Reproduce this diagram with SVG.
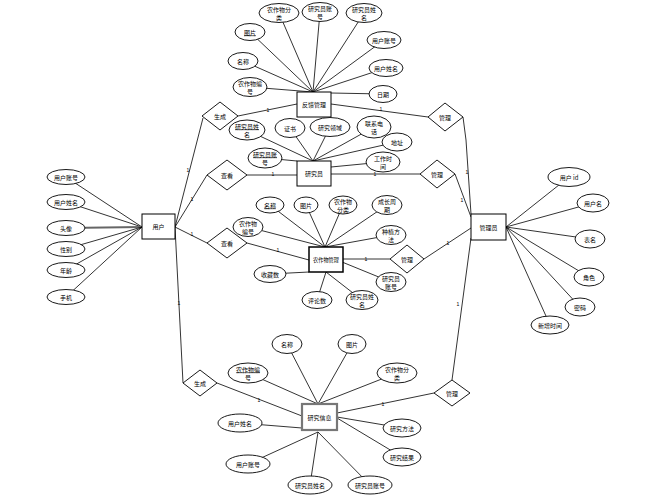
<svg xmlns="http://www.w3.org/2000/svg" width="650" height="499" viewBox="0 0 650 499">
<style>
.l{stroke:#000;stroke-width:0.8;fill:none}
.e{fill:#fff;stroke:#000;stroke-width:0.9}
.r{fill:#fff;stroke:#000;stroke-width:1}
.d{fill:#fff;stroke:#000;stroke-width:0.9}
text{font-family:"Noto Sans CJK SC","Liberation Sans",sans-serif;font-size:6px;fill:#000;text-anchor:middle;dominant-baseline:central}
.c{font-size:5px;font-family:"Liberation Sans",sans-serif}
.u{text-decoration:underline}
</style>
<rect width="650" height="499" fill="#fff"/>
<g id="connectors">
<line class="l" x1="66" y1="177" x2="142" y2="227"/>
<line class="l" x1="66" y1="202" x2="142" y2="227"/>
<line x1="66" y1="228" x2="142" y2="227" stroke="#666" stroke-width="1.8"/>
<line class="l" x1="66" y1="249" x2="142" y2="227"/>
<line class="l" x1="66" y1="270" x2="142" y2="227"/>
<line class="l" x1="66" y1="297" x2="142" y2="227"/>
<line class="l" x1="175" y1="227" x2="203" y2="118"/>
<line class="l" x1="175" y1="227" x2="207" y2="175"/>
<line class="l" x1="175" y1="227" x2="207" y2="243"/>
<line class="l" x1="175" y1="227" x2="183" y2="383"/>
<line class="l" x1="238" y1="116" x2="297" y2="104"/>
<line class="l" x1="247" y1="175" x2="297" y2="175"/>
<line class="l" x1="247" y1="243" x2="309" y2="260"/>
<line class="l" x1="217" y1="383" x2="302" y2="416"/>
<line class="l" x1="331" y1="104" x2="428" y2="117"/>
<line class="l" x1="331" y1="174" x2="420" y2="174"/>
<line class="l" x1="343" y1="259" x2="390" y2="259"/>
<line class="l" x1="337" y1="413" x2="434" y2="393"/>
<polyline class="l" points="463,117 466,140 471,214"/>
<line class="l" x1="455" y1="174" x2="471" y2="217"/>
<line class="l" x1="424" y1="259" x2="471" y2="228"/>
<line class="l" x1="452" y1="380" x2="471" y2="238"/>
<line class="l" x1="506" y1="227" x2="569" y2="177"/>
<line class="l" x1="506" y1="227" x2="593" y2="203"/>
<line class="l" x1="506" y1="227" x2="590" y2="239"/>
<line class="l" x1="506" y1="227" x2="589" y2="277"/>
<line class="l" x1="506" y1="227" x2="580" y2="307"/>
<line class="l" x1="506" y1="227" x2="550" y2="325"/>
<line class="l" x1="279" y1="13" x2="313" y2="92"/>
<line class="l" x1="320" y1="12" x2="313" y2="92"/>
<line class="l" x1="364" y1="13" x2="313" y2="92"/>
<line class="l" x1="384" y1="40" x2="313" y2="92"/>
<line class="l" x1="386" y1="68" x2="313" y2="92"/>
<line class="l" x1="383" y1="94" x2="331" y2="93"/>
<line class="l" x1="250" y1="32" x2="313" y2="92"/>
<line class="l" x1="243" y1="61" x2="313" y2="92"/>
<line class="l" x1="250" y1="87" x2="313" y2="92"/>
<line class="l" x1="247" y1="130" x2="313" y2="161"/>
<line class="l" x1="290" y1="128" x2="313" y2="161"/>
<line class="l" x1="330" y1="127" x2="313" y2="161"/>
<line class="l" x1="374" y1="127" x2="313" y2="161"/>
<line class="l" x1="397" y1="142" x2="313" y2="161"/>
<line class="l" x1="265" y1="158" x2="297" y2="161"/>
<line class="l" x1="383" y1="162" x2="331" y2="167"/>
<line class="l" x1="270" y1="205" x2="325" y2="247"/>
<line class="l" x1="306" y1="205" x2="325" y2="247"/>
<line class="l" x1="343" y1="205" x2="325" y2="247"/>
<line class="l" x1="387" y1="205" x2="325" y2="247"/>
<line class="l" x1="391" y1="235" x2="325" y2="247"/>
<line class="l" x1="248" y1="227" x2="325" y2="247"/>
<line class="l" x1="391" y1="282" x2="342" y2="262"/>
<line class="l" x1="362" y1="300" x2="326" y2="272"/>
<line class="l" x1="317" y1="300" x2="326" y2="272"/>
<line class="l" x1="270" y1="274" x2="309" y2="272"/>
<line class="l" x1="287" y1="344" x2="318" y2="404"/>
<line class="l" x1="352" y1="344" x2="318" y2="404"/>
<line class="l" x1="248" y1="373" x2="318" y2="404"/>
<line class="l" x1="397" y1="373" x2="318" y2="404"/>
<line class="l" x1="240" y1="423" x2="302" y2="428"/>
<line class="l" x1="402" y1="428" x2="337" y2="417"/>
<line class="l" x1="402" y1="457" x2="337" y2="418"/>
<line class="l" x1="370" y1="485" x2="318" y2="432"/>
<line class="l" x1="310" y1="485" x2="318" y2="432"/>
<line class="l" x1="248" y1="464" x2="318" y2="432"/>
<text class="c" x="188" y="170">1</text>
<text class="c" x="192" y="199">1</text>
<text class="c" x="192" y="234">1</text>
<text class="c" x="179" y="303">1</text>
<text class="c" x="268" y="110">1</text>
<text class="c" x="273" y="174">1</text>
<text class="c" x="278" y="250">1</text>
<text class="c" x="259" y="400">1</text>
<text class="c" x="381" y="109">1</text>
<text class="c" x="375" y="174">1</text>
<text class="c" x="366" y="259">1</text>
<text class="c" x="383" y="404">1</text>
<text class="c" x="467" y="172">1</text>
<text class="c" x="462" y="200">1</text>
<text class="c" x="448" y="243">1</text>
<text class="c" x="458" y="304">1</text>
</g>
<g id="user"><rect class="r" x="142" y="214" width="33" height="25"/><text x="158.5" y="226.5">用户</text></g>
<g id="user-attrs">
<ellipse class="e" cx="66" cy="177" rx="19" ry="7.5"/><text x="66" y="177">用户账号</text>
<ellipse class="e" cx="66" cy="202" rx="19" ry="7.5"/><text x="66" y="202">用户姓名</text>
<ellipse class="e" cx="66" cy="228" rx="19" ry="7.5"/><text x="66" y="228">头像</text>
<ellipse class="e" cx="66" cy="249" rx="19" ry="7.5"/><text x="66" y="249">性别</text>
<ellipse class="e" cx="66" cy="270" rx="19" ry="7.5"/><text x="66" y="270">年龄</text>
<ellipse class="e" cx="66" cy="297" rx="19" ry="7.5"/><text x="66" y="297">手机</text>
</g>
<g id="feedback"><rect class="r" x="297" y="92" width="34" height="25"/><text x="314" y="104.5">反馈管理</text></g>
<g id="feedback-attrs">
<ellipse class="e" cx="279" cy="13" rx="20" ry="9.5"/><text x="279" y="9">农作物分</text><text x="279" y="17.5">类</text>
<ellipse class="e" cx="320" cy="12" rx="18" ry="9.5"/><text x="320" y="8">研究员账</text><text x="320" y="16.5">号</text>
<ellipse class="e" cx="364" cy="13" rx="18" ry="9.5"/><text x="364" y="9">研究员姓</text><text x="364" y="17.5">名</text>
<ellipse class="e" cx="384" cy="40" rx="17" ry="8.5"/><text x="384" y="40">用户账号</text>
<ellipse class="e" cx="386" cy="68" rx="17" ry="8.5"/><text x="386" y="68">用户姓名</text>
<ellipse class="e" cx="383" cy="94" rx="14" ry="8.5"/><text x="383" y="94">日期</text>
<ellipse class="e" cx="250" cy="32" rx="15" ry="8.5"/><text class="u" x="250" y="32">图片</text>
<ellipse class="e" cx="243" cy="61" rx="15" ry="8.5"/><text x="243" y="61">名称</text>
<ellipse class="e" cx="250" cy="87" rx="17" ry="9.5"/><text x="250" y="83">农作物编</text><text x="250" y="91.5">号</text>
</g>
<g id="researcher"><rect class="r" x="297" y="161" width="34" height="25"/><text x="314" y="173.5">研究员</text></g>
<g id="researcher-attrs">
<ellipse class="e" cx="247" cy="130" rx="18" ry="10"/><text class="u" x="247" y="126">研究员姓</text><text x="247" y="134.5">名</text>
<ellipse class="e" cx="290" cy="128" rx="15" ry="9.5"/><text x="290" y="128">证书</text>
<ellipse class="e" cx="330" cy="127" rx="20" ry="9.5"/><text x="330" y="127">研究领域</text>
<ellipse class="e" cx="374" cy="127" rx="17" ry="11"/><text x="374" y="123">联系电</text><text x="374" y="131.5">话</text>
<ellipse class="e" cx="397" cy="142" rx="15" ry="9"/><text x="397" y="142">地址</text>
<ellipse class="e" cx="265" cy="158" rx="17" ry="10"/><text class="u" x="265" y="154">研究员账</text><text x="265" y="162.5">号</text>
<ellipse class="e" cx="383" cy="162" rx="17" ry="10"/><text x="383" y="158">工作时</text><text x="383" y="166.5">间</text>
</g>
<g id="crop"><rect x="309" y="247" width="34" height="25" fill="#fff" stroke="#000" stroke-width="1.5"/><text x="326" y="259.5" style="font-size:5.2px">农作物管理</text></g>
<g id="crop-attrs">
<ellipse class="e" cx="270" cy="205" rx="14" ry="8"/><text class="u" x="270" y="205">名称</text>
<ellipse class="e" cx="306" cy="205" rx="12" ry="8"/><text x="306" y="205">图片</text>
<ellipse class="e" cx="343" cy="205" rx="14" ry="9"/><text x="343" y="201">农作物</text><text x="343" y="209.5">分类</text>
<ellipse class="e" cx="387" cy="205" rx="15" ry="9.5"/><text x="387" y="201">成长周</text><text x="387" y="209.5">期</text>
<ellipse class="e" cx="391" cy="235" rx="15" ry="9.5"/><text x="391" y="231">种植方</text><text x="391" y="239.5">法</text>
<ellipse class="e" cx="248" cy="227" rx="15" ry="9.5"/><text x="248" y="223">农作物</text><text x="248" y="231.5">编号</text>
<ellipse class="e" cx="391" cy="282" rx="15" ry="9.5"/><text x="391" y="278">研究员</text><text x="391" y="286.5">账号</text>
<ellipse class="e" cx="362" cy="300" rx="16" ry="9.5"/><text x="362" y="296">研究员姓</text><text x="362" y="304.5">名</text>
<ellipse class="e" cx="317" cy="300" rx="15" ry="8.5"/><text x="317" y="300">评论数</text>
<ellipse class="e" cx="270" cy="274" rx="16" ry="8.5"/><text x="270" y="274">收藏数</text>
</g>
<g id="admin"><rect class="r" x="471" y="214" width="35" height="26"/><text x="488.5" y="227">管理员</text></g>
<g id="admin-attrs">
<ellipse class="e" cx="569" cy="177" rx="21" ry="9.5"/><text x="569" y="177">用户 id</text>
<ellipse class="e" cx="593" cy="203" rx="16" ry="9"/><text x="593" y="203">用户名</text>
<ellipse class="e" cx="590" cy="239" rx="15" ry="9"/><text x="590" y="239">表名</text>
<ellipse class="e" cx="589" cy="277" rx="15" ry="9"/><text x="589" y="277">角色</text>
<ellipse class="e" cx="580" cy="307" rx="15" ry="9"/><text x="580" y="307">密码</text>
<ellipse class="e" cx="550" cy="325" rx="19" ry="9"/><text x="550" y="325">新增时间</text>
</g>
<g id="research"><rect x="302" y="404" width="35" height="26" fill="#fff" stroke="#777" stroke-width="2.2"/><text x="319.5" y="417">研究信息</text></g>
<g id="research-attrs">
<ellipse class="e" cx="287" cy="344" rx="15" ry="9.5"/><text x="287" y="344">名称</text>
<ellipse class="e" cx="352" cy="344" rx="14" ry="9.5"/><text x="352" y="344">图片</text>
<ellipse class="e" cx="248" cy="373" rx="20" ry="10"/><text class="u" x="248" y="369">农作物编</text><text x="248" y="377.5">号</text>
<ellipse class="e" cx="397" cy="373" rx="20" ry="10"/><text x="397" y="369">农作物分</text><text x="397" y="377.5">类</text>
<ellipse class="e" cx="402" cy="428" rx="19" ry="9"/><text x="402" y="428">研究方法</text>
<ellipse class="e" cx="402" cy="457" rx="19" ry="9"/><text x="402" y="457">研究结果</text>
<ellipse class="e" cx="370" cy="485" rx="22" ry="9"/><text x="370" y="485">研究员账号</text>
<ellipse class="e" cx="310" cy="485" rx="22" ry="9"/><text x="310" y="485">研究员姓名</text>
<ellipse class="e" cx="248" cy="464" rx="22" ry="9"/><text x="248" y="464">用户账号</text>
<ellipse class="e" cx="240" cy="423" rx="22" ry="9"/><text x="240" y="423">用户姓名</text>
</g>
<g id="rel-generate-top"><polygon class="d" points="220,102 238,116 220,130 202,116"/><text x="220" y="116">生成</text></g>
<g id="rel-view-researcher"><polygon class="d" points="227,160 247,175 227,190 207,175"/><text x="227" y="175">查看</text></g>
<g id="rel-view-crop"><polygon class="d" points="227,228 247,243 227,258 207,243"/><text x="227" y="243">查看</text></g>
<g id="rel-generate-bottom"><polygon class="d" points="200,370 217,383 200,396 183,383"/><text x="200" y="383">生成</text></g>
<g id="rel-manage-feedback"><polygon class="d" points="445,103 463,117 445,131 428,117"/><text x="445" y="117">管理</text></g>
<g id="rel-manage-researcher"><polygon class="d" points="437,160 455,174 437,188 420,174"/><text x="437" y="174">管理</text></g>
<g id="rel-manage-crop"><polygon class="d" points="407,245 424,259 407,273 390,259"/><text x="407" y="259">管理</text></g>
<g id="rel-manage-research"><polygon class="d" points="452,380 470,393 452,406 434,393"/><text x="452" y="393">管理</text></g>
</svg>
